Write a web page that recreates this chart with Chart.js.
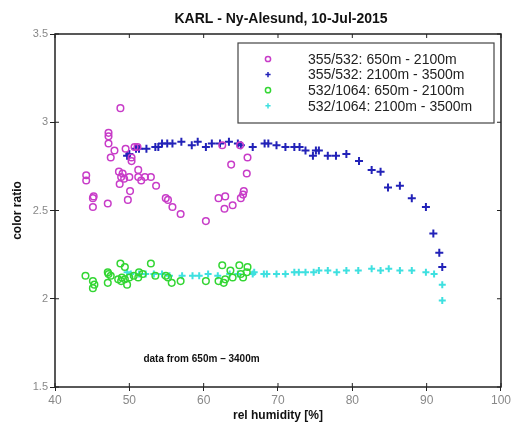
<!DOCTYPE html>
<html>
<head>
<meta charset="utf-8">
<script src="https://cdn.jsdelivr.net/npm/chart.js@4/dist/chart.umd.min.js"></script>
<style>
  html, body { margin: 0; padding: 0; background: #fff; }
  #wrap { width: 513px; height: 423px; }
</style>
</head>
<body>
<div id="wrap"><canvas id="ratioChart"></canvas></div>
<script>
// 355/532, 650m - 2100m (magenta circles)
const uvHumLow = [48.8, 47.2, 47.2, 47.2, 48.0, 47.5, 49.5, 50.7, 51.1, 50.3, 50.3, 44.2, 44.2, 48.6, 49.1, 48.9,
    49.3, 48.7, 50.0, 51.2, 51.2, 51.6, 52.1, 52.9, 53.6, 45.2, 45.1, 45.1, 47.1, 50.1, 49.8, 54.9,
    55.2, 55.8, 56.9, 60.3, 62.0, 62.9, 62.8, 63.9, 65.0, 65.3, 65.4, 65.8, 65.9, 63.7, 62.5, 64.9];
const uvRatioLow = [3.08, 2.94, 2.92, 2.88, 2.84, 2.80, 2.85, 2.86, 2.86, 2.80, 2.78, 2.70, 2.67, 2.72, 2.71, 2.69,
    2.68, 2.65, 2.69, 2.73, 2.69, 2.67, 2.69, 2.69, 2.64, 2.58, 2.57, 2.52, 2.54, 2.61, 2.56, 2.57,
    2.56, 2.52, 2.48, 2.44, 2.57, 2.58, 2.51, 2.53, 2.57, 2.59, 2.61, 2.71, 2.80, 2.76, 2.87, 2.87];

// 355/532, 2100m - 3500m (blue plus)
const uvHumHigh = [49.7, 50.0, 50.9, 51.3, 52.3, 53.5, 53.9, 54.4, 55.1, 55.8, 57.0, 58.4, 59.2, 60.3, 61.1, 62.2,
    63.4, 64.6, 65.0, 66.6, 68.2, 68.7, 69.8, 71.0, 72.2, 72.9, 73.7, 74.7, 75.1, 75.5, 76.7, 77.8,
    79.2, 80.9, 82.6, 83.8, 84.8, 86.4, 88.0, 89.9, 90.9, 91.7, 92.1];
const uvRatioHigh = [2.81, 2.82, 2.85, 2.85, 2.85, 2.86, 2.86, 2.88, 2.88, 2.88, 2.89, 2.87, 2.89, 2.86, 2.88, 2.88,
    2.89, 2.88, 2.87, 2.86, 2.88, 2.88, 2.87, 2.86, 2.86, 2.86, 2.84, 2.81, 2.84, 2.84, 2.81, 2.81,
    2.82, 2.78, 2.73, 2.72, 2.63, 2.64, 2.57, 2.52, 2.37, 2.26, 2.18];

// 532/1064, 650m - 2100m (green circles)
const irHumLow = [44.1, 45.1, 45.1, 45.3, 47.1, 47.2, 47.1, 47.5, 48.8, 48.5, 48.9, 49.0, 49.4, 49.7, 50.0, 49.4,
    50.6, 51.2, 51.3, 51.8, 52.9, 53.5, 54.9, 55.2, 55.7, 56.9, 60.3, 62.0, 62.7, 62.5, 62.9, 63.6,
    63.9, 64.8, 65.0, 65.3, 65.9, 65.8];
const irRatioLow = [2.13, 2.10, 2.06, 2.08, 2.15, 2.14, 2.09, 2.13, 2.20, 2.11, 2.10, 2.12, 2.18, 2.08, 2.12, 2.11,
    2.13, 2.12, 2.15, 2.14, 2.20, 2.13, 2.13, 2.12, 2.09, 2.10, 2.10, 2.10, 2.09, 2.19, 2.11, 2.16,
    2.12, 2.19, 2.14, 2.12, 2.18, 2.15];

// 532/1064, 2100m - 3500m (cyan plus)
const irHumHigh = [49.7, 50.2, 51.3, 52.2, 53.3, 54.4, 55.4, 57.1, 58.5, 59.4, 60.6, 61.9, 63.5, 64.6, 66.6, 66.8,
    68.1, 68.5, 69.8, 71.0, 72.2, 72.8, 73.7, 74.8, 75.5, 76.7, 77.9, 79.2, 80.8, 82.6, 83.8, 84.9,
    86.4, 88.0, 89.9, 91.0, 92.1, 92.1];
const irRatioHigh = [2.15, 2.14, 2.14, 2.14, 2.14, 2.14, 2.13, 2.13, 2.13, 2.13, 2.14, 2.13, 2.14, 2.14, 2.14, 2.15,
    2.14, 2.14, 2.14, 2.14, 2.15, 2.15, 2.15, 2.15, 2.16, 2.16, 2.15, 2.16, 2.16, 2.17, 2.16, 2.17,
    2.16, 2.16, 2.15, 2.14, 2.08, 1.99];

const seriesLabels = ["355/532: 650m - 2100m", "355/532: 2100m - 3500m", "532/1064: 650m - 2100m", "532/1064: 2100m - 3500m"];
const xTicks = [40, 50, 60, 70, 80, 90, 100];
const yTicks = [1.5, 2, 2.5, 3, 3.5];
const titleText = "KARL - Ny-Alesund, 10-Jul-2015";
const noteText = "data from 650m \u2013 3400m";

function pairs(xs, ys) {
    return xs.map((x, i) => ({ x: x, y: ys[i] }));
}

// frame, inner ticks, title, note and boxed legend
const decorPlugin = {
    id: "decor",
    afterDraw(chart) {
        const ctx = chart.ctx;
        const a = chart.chartArea;
        const xs = chart.scales.x, ys = chart.scales.y;
        ctx.save();
        ctx.strokeStyle = "#222";
        ctx.lineWidth = 1.5;
        ctx.strokeRect(a.left, a.top, a.right - a.left, a.bottom - a.top);
        ctx.lineWidth = 1;
        ctx.beginPath();
        xTicks.forEach(v => {
            const px = xs.getPixelForValue(v);
            ctx.moveTo(px, a.top); ctx.lineTo(px, a.top + 4);
            ctx.moveTo(px, a.bottom); ctx.lineTo(px, a.bottom - 4);
        });
        yTicks.forEach(v => {
            const py = ys.getPixelForValue(v);
            ctx.moveTo(a.right, py); ctx.lineTo(a.right - 4, py);
            ctx.moveTo(a.left, py); ctx.lineTo(a.left + 4, py);
        });
        ctx.stroke();

        ctx.fillStyle = "#111";
        ctx.font = "bold 14px 'Liberation Sans', Arial, sans-serif";
        ctx.textAlign = "center";
        ctx.textBaseline = "middle";
        ctx.fillText(titleText, (a.left + a.right) / 2 + 3, 19);

        ctx.font = "bold 10px 'Liberation Sans', Arial, sans-serif";
        ctx.textAlign = "left";
        ctx.fillText(noteText, xs.getPixelForValue(51.9), ys.getPixelForValue(1.655));

        // legend box
        const bx = 238, by = 43, bw = 256, bh = 80;
        ctx.fillStyle = "#fff";
        ctx.fillRect(bx, by, bw, bh);
        ctx.strokeStyle = "#444";
        ctx.lineWidth = 1.2;
        ctx.strokeRect(bx, by, bw, bh);
        ctx.font = "14px 'Liberation Sans', Arial, sans-serif";
        chart.data.datasets.forEach((ds, i) => {
            const ry = 59 + i * 15.6;
            ctx.strokeStyle = ds.borderColor;
            ctx.fillStyle = ds.backgroundColor;
            ctx.lineWidth = 1.5;
            Chart.helpers.drawPoint(ctx, { pointStyle: ds.pointStyle, radius: 2.6, borderWidth: 1.5, rotation: 0 }, 268, ry);
            ctx.fillStyle = "#222";
            ctx.fillText(ds.label, 308, ry + 1);
        });
        ctx.restore();
    }
};

const ctx = document.getElementById("ratioChart").getContext("2d");

new Chart(ctx, {
    type: "scatter",
    data: {
        datasets: [
            {
                label: seriesLabels[0],
                data: pairs(uvHumLow, uvRatioLow),
                pointStyle: "circle",
                borderColor: "#c83cc8",
                backgroundColor: "rgba(0,0,0,0)",
                borderWidth: 1.5,
                pointRadius: 3.3
            },
            {
                label: seriesLabels[1],
                data: pairs(uvHumHigh, uvRatioHigh),
                pointStyle: "cross",
                borderColor: "#2222b8",
                backgroundColor: "#2222b8",
                borderWidth: 2,
                pointRadius: 4
            },
            {
                label: seriesLabels[2],
                data: pairs(irHumLow, irRatioLow),
                pointStyle: "circle",
                borderColor: "#33d633",
                backgroundColor: "rgba(0,0,0,0)",
                borderWidth: 1.5,
                pointRadius: 3.3
            },
            {
                label: seriesLabels[3],
                data: pairs(irHumHigh, irRatioHigh),
                pointStyle: "cross",
                borderColor: "#3ee0e0",
                backgroundColor: "#3ee0e0",
                borderWidth: 2,
                pointRadius: 3.5
            }
        ]
    },
    options: {
        responsive: true,
        maintainAspectRatio: false,
        animation: false,
        layout: { padding: { top: 34, right: 7, left: 0, bottom: 0 } },
        plugins: {
            legend: { display: false },
            title: { display: false },
            tooltip: { enabled: false }
        },
        scales: {
            x: {
                type: "linear",
                min: 40,
                max: 100,
                afterBuildTicks: s => { s.ticks = xTicks.map(v => ({ value: v })); },
                afterFit: s => { s.height = 36; },
                grid: { display: true, drawOnChartArea: false, drawTicks: true, tickLength: 4, color: "#222" },
                border: { display: false },
                ticks: { color: "#888", font: { size: 12, family: "'Liberation Sans', Arial" }, padding: 2, maxRotation: 0 },
                title: { display: true, text: "rel humidity [%]", color: "#111", font: { size: 12, weight: "bold", family: "'Liberation Sans', Arial" }, padding: { top: 0, bottom: 0 } }
            },
            y: {
                type: "linear",
                min: 1.5,
                max: 3.5,
                afterBuildTicks: s => { s.ticks = yTicks.map(v => ({ value: v })); },
                afterFit: s => { s.width = 55; },
                grid: { display: true, drawOnChartArea: false, drawTicks: true, tickLength: 5, color: "#222" },
                border: { display: false },
                ticks: { color: "#888", font: { size: 11, family: "'Liberation Sans', Arial" }, padding: 2, callback: v => String(v) },
                title: { display: true, text: "color ratio", color: "#111", font: { size: 12, weight: "bold", family: "'Liberation Sans', Arial" }, padding: { top: 10, bottom: 0 } }
            }
        }
    },
    plugins: [decorPlugin]
});
</script>
</body>
</html>
